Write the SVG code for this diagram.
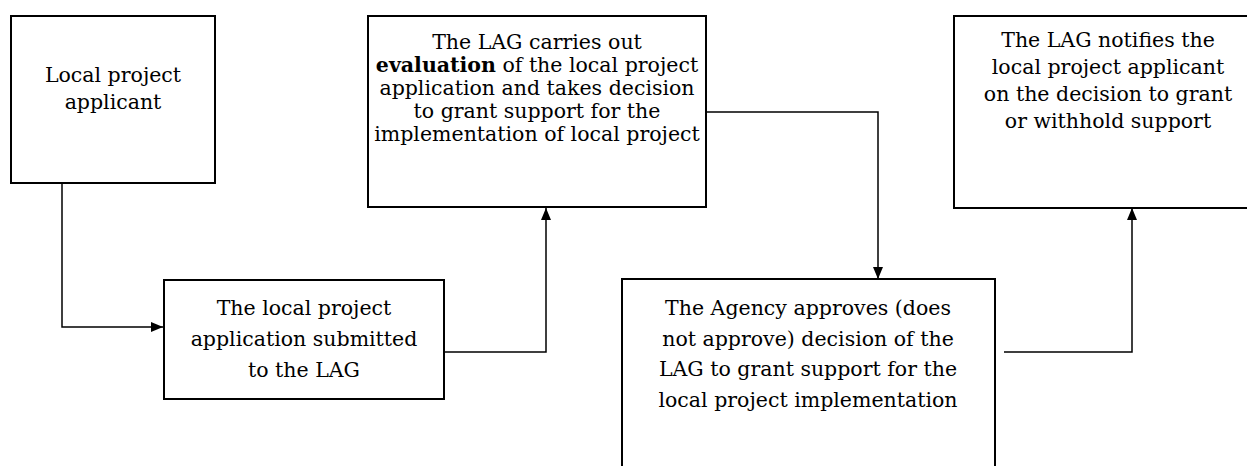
<svg xmlns="http://www.w3.org/2000/svg" width="1247" height="466" viewBox="0 0 1247 466">
<style>
.box{fill:#fff;stroke:#000;stroke-width:2}
.t{font-family:'DejaVu Serif','Liberation Serif',serif;font-size:20.5px;fill:#000;text-anchor:middle}
.c{fill:none;stroke:#000;stroke-width:1.5}
</style>
<defs>
<marker id="ah" viewBox="0 0 12 10" refX="12" refY="5" markerWidth="12" markerHeight="10" markerUnits="userSpaceOnUse" orient="auto">
<path d="M0,0 L12,5 L0,10 Z" fill="#000"/>
</marker>
</defs>
<rect width="1247" height="466" fill="#fff"/>
<g id="connectors">
<path class="c" d="M62,183 V327 H163" marker-end="url(#ah)"/>
<path class="c" d="M444,352 H546 V208" marker-end="url(#ah)"/>
<path class="c" d="M706,112 H878 V279" marker-end="url(#ah)"/>
<path class="c" d="M1004,352 H1132 V208" marker-end="url(#ah)"/>
</g>
<g id="n1">
<rect class="box" x="11" y="16" width="204" height="167"/>
<text class="t"><tspan x="113" y="82">Local project</tspan><tspan x="113" y="109">applicant</tspan></text>
</g>
<g id="n2">
<rect class="box" x="164" y="280" width="280" height="119"/>
<text class="t"><tspan x="304" y="315">The local project</tspan><tspan x="304" y="346">application submitted</tspan><tspan x="304" y="377">to the LAG</tspan></text>
</g>
<g id="n3">
<rect class="box" x="368" y="16" width="338" height="191"/>
<text class="t"><tspan x="537" y="49">The LAG carries out</tspan><tspan x="537" y="72"><tspan font-weight="bold">evaluation</tspan> of the local project</tspan><tspan x="537" y="95">application and takes decision</tspan><tspan x="537" y="118">to grant support for the</tspan><tspan x="537" y="141">implementation of local project</tspan></text>
</g>
<g id="n4">
<rect class="box" x="622" y="279" width="373" height="200"/>
<text class="t"><tspan x="808" y="315">The Agency approves (does</tspan><tspan x="808" y="345.5">not approve) decision of the</tspan><tspan x="808" y="376">LAG to grant support for the</tspan><tspan x="808" y="406.5">local project implementation</tspan></text>
</g>
<g id="n5">
<rect class="box" x="954" y="16" width="310" height="192"/>
<text class="t"><tspan x="1108" y="47">The LAG notifies the</tspan><tspan x="1108" y="74">local project applicant</tspan><tspan x="1108" y="101">on the decision to grant</tspan><tspan x="1108" y="128">or withhold support</tspan></text>
</g>
</svg>
